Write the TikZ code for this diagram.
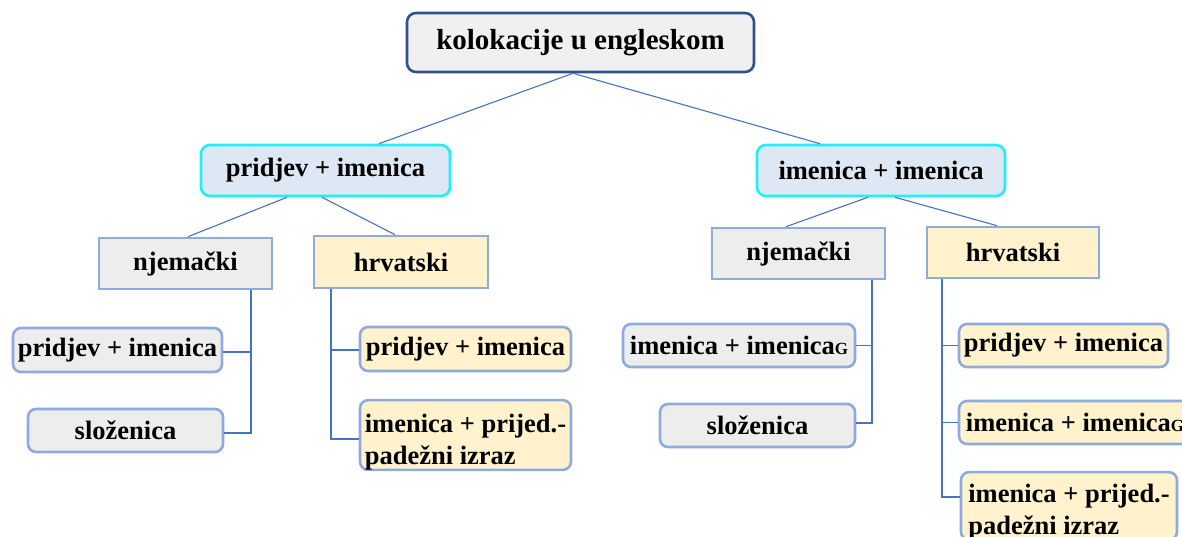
\documentclass[tikz,border=0pt]{standalone}
\usepackage{fontspec}
\setmainfont{Liberation Serif}
\definecolor{titlebord}{HTML}{2F528F}
\definecolor{titlefill}{HTML}{F0F0F0}
\definecolor{cyanbord}{HTML}{1EF0F8}
\definecolor{bluefill}{HTML}{DEE7F4}
\definecolor{lbord}{HTML}{8FAADC}
\definecolor{greyfill}{HTML}{EDEDED}
\definecolor{yelfill}{HTML}{FFF2CC}
\definecolor{conn}{HTML}{4472C4}
\newcommand\Gsub{{\fontsize{17}{17}\selectfont G}}
\tikzset{
  basebox/.style={line width=2.6pt, inner sep=0pt, align=center,
    font=\fontsize{26.5}{29}\selectfont\bfseries},
  titlebox/.style={basebox, draw=titlebord, fill=titlefill, rounded corners=9pt,
    font=\fontsize{29}{32}\selectfont\bfseries},
  midbox/.style={basebox, draw=cyanbord, fill=bluefill, rounded corners=9pt},
  langgrey/.style={basebox, draw=lbord, fill=greyfill},
  langyel/.style={basebox, draw=lbord, fill=yelfill},
  leafgrey/.style={basebox, draw=lbord, fill=greyfill, rounded corners=8pt},
  leafyel/.style={basebox, draw=lbord, fill=yelfill, rounded corners=8pt},
  link/.style={draw=conn, line width=1.1pt},
}
\begin{document}
\begin{tikzpicture}[x=1pt,y=-1pt]
\useasboundingbox (0,0) rectangle (1182,537);
\clip (0,0) rectangle (1182,537);
% nodes
\node[titlebox, minimum width=347pt, minimum height=59pt] (title) at (580.5,42.5) {kolokacije u engleskom};
\node[midbox, minimum width=249pt, minimum height=51pt] (pa) at (325.5,170.5) {pridjev + imenica};
\node[midbox, minimum width=248pt, minimum height=51pt] (ii) at (881,170.5) {imenica + imenica};
\node[langgrey, minimum width=173pt, minimum height=51pt] (njL) at (185.5,263.5) {njemački};
\node[langyel, minimum width=174pt, minimum height=52pt] (hrL) at (401,262) {hrvatski};
\node[langgrey, minimum width=173pt, minimum height=51pt] (njR) at (798.5,253.5) {njemački};
\node[langyel, minimum width=172pt, minimum height=51pt] (hrR) at (1013,252.5) {hrvatski};
% left leaves
\node[leafgrey, minimum width=209pt, minimum height=44pt] (lpa) at (117.5,350) {pridjev + imenica};
\node[leafgrey, minimum width=195pt, minimum height=43pt] (lsl) at (125.5,430.5) {složenica};
\node[leafyel, minimum width=211pt, minimum height=44pt] (lhpa) at (465.5,349) {pridjev + imenica};
\node[leafyel, minimum width=211pt, minimum height=64pt, align=left] (lhip) at (465.5,435) {\rule{0pt}{32pt}imenica + prijed.-\\[3pt]padežni izraz};
% right leaves
\node[leafgrey, minimum width=232pt, minimum height=43pt] (rii) at (739,345.5) {imenica + imenica\Gsub};
\node[leafgrey, minimum width=195pt, minimum height=43pt] (rsl) at (757.5,425.5) {složenica};
\node[leafyel, minimum width=209pt, minimum height=43pt] (rhpa) at (1063.5,345.5) {pridjev + imenica};
\node[leafyel, minimum width=232pt, minimum height=43pt] (rhii) at (1075,422.5) {imenica + imenica\Gsub};
\node[leafyel, minimum width=216pt, minimum height=64pt, align=left] (rhip) at (1069,506) {\rule{0pt}{30pt}imenica + prijed.-\\[3pt]padežni izraz};
% connectors
\draw[link] ([xshift=-7.5pt]title.south) -- ([xshift=53.5pt]pa.north);
\draw[link] ([xshift=-7.5pt]title.south) -- ([xshift=-61pt]ii.north);
\draw[link] ([xshift=-38.5pt]pa.south) -- ([xshift=2.5pt]njL.north);
\draw[link] ([xshift=-3.5pt]pa.south) -- ([xshift=-6pt]hrL.north);
\draw[link] ([xshift=-13pt]ii.south) -- ([xshift=-12.5pt]njR.north);
\draw[link] ([xshift=14pt]ii.south) -- ([xshift=-16pt]hrR.north);
% trunks
\coordinate (tnjL) at ([xshift=65.5pt]njL.south);
\draw[link] (tnjL) |- ([yshift=-2.5pt]lsl.east);
\draw[link] ([yshift=-2pt]lpa.east) -- ([yshift=-2pt]lpa.east -| tnjL);
\coordinate (thrL) at ([xshift=-70pt]hrL.south);
\draw[link] (thrL) |- ([yshift=-4pt]lhip.west);
\draw[link] ([yshift=-1pt]lhpa.west) -- ([yshift=-1pt]lhpa.west -| thrL);
\coordinate (tnjR) at ([xshift=73.5pt]njR.south);
\draw[link] (tnjR) |- ([yshift=2.5pt]rsl.east);
\draw[link] (rii.east) -- (rii.east -| tnjR);
\coordinate (thrR) at ([xshift=-71pt]hrR.south);
\draw[link] (thrR) |- ([yshift=9pt]rhip.west);
\draw[link] (rhpa.west) -- (rhpa.west -| thrR);
\draw[link] (rhii.west) -- (rhii.west -| thrR);
\end{tikzpicture}
\end{document}
